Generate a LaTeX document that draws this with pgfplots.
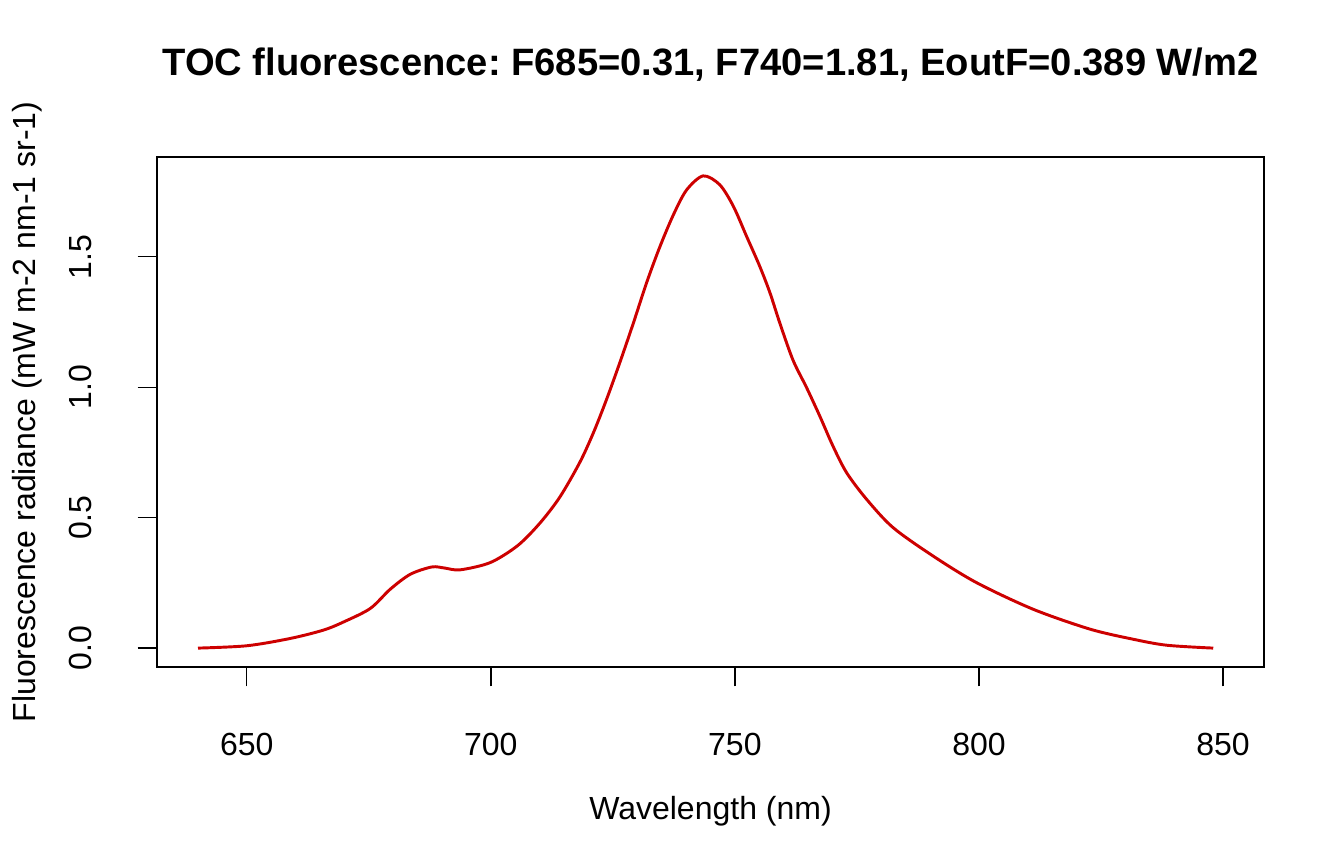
\documentclass[border=0pt]{standalone}
\usepackage{fontspec}
\setmainfont{Liberation Sans}
\usepackage{pgfplots}
\pgfplotsset{compat=1.18}
\definecolor{rthree}{RGB}{205,0,0}
\begin{document}
\frenchspacing
\begin{tikzpicture}
\begin{axis}[
  scale only axis,
  width=415.125pt, height=191.25pt,
  xmin=631.6, xmax=858.4,
  ymin=-0.0724, ymax=1.8824,
  xtick={650,700,750,800,850},
  ytick={0,0.5,1,1.5},
  yticklabels={0.0,0.5,1.0,1.5},
  xtick pos=left, ytick pos=left,
  tick align=outside,
  major tick length=7.3pt,
  tick style={black, line width=0.5pt},
  axis line style={line width=0.5pt},
  /pgf/number format/assume math mode=true,
  /pgf/number format/1000 sep={},
  every tick label/.append style={font=\fontsize{12}{14}\selectfont},
  xticklabel style={anchor=base, yshift=-25.9pt},
  yticklabel style={xshift=-17.25pt, rotate=90, anchor=base},
  title={\textbf{TOC fluorescence: F685=0.31, F740=1.81, EoutF=0.389 W/m2}},
  title style={font=\fontsize{14.3}{16}\selectfont, at={(axis description cs:0.5,1)}, anchor=base, yshift=24.5pt, inner sep=0pt},
  xlabel={Wavelength (nm)},
  xlabel style={font=\fontsize{12}{14}\selectfont, at={(axis description cs:0.5,0)}, anchor=base, yshift=-57pt, inner sep=0pt},
  ylabel={Fluorescence radiance (mW m-2 nm-1 sr-1)},
  ylabel style={font=\fontsize{12}{14}\selectfont, at={(axis description cs:-0.1096,0.5)}, anchor=base, inner sep=0pt},
]
\addplot[rthree, line width=1.1pt, smooth, tension=0.5] coordinates {
(640.0,0.000) (650.0,0.009) (658.9,0.037) (665.7,0.069) (669.8,0.100)
(675.3,0.152) (679.4,0.226) (683.5,0.283) (687.9,0.311) (690.5,0.307)
(693.7,0.300) (699.9,0.328) (705.5,0.393) (710.0,0.478) (714.1,0.578)
(718.2,0.711) (721.0,0.825) (723.7,0.953) (726.4,1.093) (729.2,1.246)
(731.9,1.400) (734.6,1.537) (737.4,1.661) (740.1,1.756) (743.5,1.810)
(746.9,1.776) (749.7,1.693) (752.4,1.578) (755.1,1.463) (757.2,1.361)
(759.2,1.246) (761.9,1.104) (764.7,0.998) (767.4,0.889) (770.1,0.774)
(772.9,0.672) (777.0,0.570) (782.4,0.462) (790.6,0.353)
(799.5,0.251) (811.1,0.149) (822.7,0.073) (831.6,0.034) (838.5,0.011)
(848.0,0.000)
};
\end{axis}
\pgfresetboundingbox
\path[use as bounding box] (-58.875pt,-73.875pt) rectangle (445.125pt,250.125pt);
\end{tikzpicture}
\end{document}
